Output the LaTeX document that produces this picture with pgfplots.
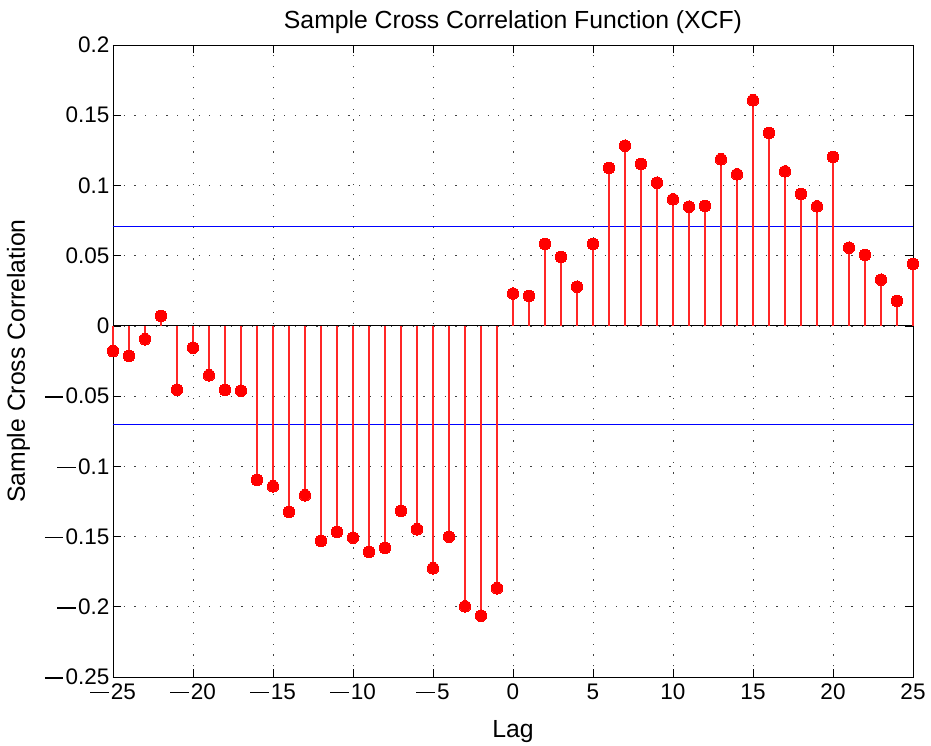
\documentclass[border=0pt]{standalone}
\usepackage{pgfplots}
\pgfplotsset{compat=1.18}
\usepackage{fontspec}
\setmainfont{Liberation Sans}
\newcommand{\mn}{\rule[0.26em]{0.82em}{0.07em}\hspace{0.1em}}
\begin{document}
\begin{tikzpicture}
\begin{axis}[
  width=800pt, height=632pt, scale only axis,
  xmin=-25, xmax=25, ymin=-0.25, ymax=0.2,
  xtick={-25,-20,...,25},
  xticklabels={\mn25,\mn20,\mn15,\mn10,\mn5,0,5,10,15,20,25},
  ytick={-0.25,-0.2,-0.15,-0.1,-0.05,0,0.05,0.1,0.15,0.2},
  yticklabels={\mn0.25,\mn0.2,\mn0.15,\mn0.1,\mn0.05,0,0.05,0.1,0.15,0.2},
  tick label style={font=\fontsize{22.5}{27}\selectfont},
  xticklabel style={yshift=-3pt},
  tick align=inside, major tick length=8pt,
  every tick/.style={black, line width=0.6pt},
  axis line style={black, line width=0.8pt},
  grid=major,
  major grid style={black!75, line width=0.6pt, dash pattern=on 1.2pt off 9.5pt},
  title={Sample Cross Correlation Function (XCF)},
  title style={font=\fontsize{24.75}{29}\selectfont, yshift=2pt},
  xlabel={Lag},
  ylabel={Sample Cross Correlation},
  label style={font=\fontsize{24.75}{29}\selectfont},
  xlabel style={yshift=-14pt},
  ylabel style={yshift=8pt},
  clip=false,
]
\addplot[color=black, line width=1pt, mark=none] coordinates {(-25,0) (25,0)};
\addplot[color=blue, line width=1pt, mark=none] coordinates {(-25,0.0707) (25,0.0707)};
\addplot[color=blue, line width=1.1pt, mark=none] coordinates {(-25,-0.0704) (25,-0.0704)};
\addplot[ycomb, red!85!white, line width=1.3pt, mark=*, mark size=5.8pt,
  mark options={fill=red, draw=red, line width=0pt}] table {
x y
-25 -0.018
-24 -0.0215
-23 -0.0095
-22 0.007
-21 -0.0454
-20 -0.0155
-19 -0.0352
-18 -0.0457
-17 -0.0461
-16 -0.1097
-15 -0.1142
-14 -0.1325
-13 -0.1206
-12 -0.1532
-11 -0.1468
-10 -0.1508
-9 -0.161
-8 -0.1581
-7 -0.1318
-6 -0.1448
-5 -0.1726
-4 -0.1501
-3 -0.1997
-2 -0.2063
-1 -0.1868
0 0.023
1 0.0213
2 0.0583
3 0.049
4 0.0279
5 0.0583
6 0.1124
7 0.1283
8 0.1153
9 0.102
10 0.0901
11 0.0849
12 0.0854
13 0.1186
14 0.1079
15 0.1606
16 0.1373
17 0.110
18 0.0939
19 0.0851
20 0.1203
21 0.0557
22 0.0505
23 0.0329
24 0.0177
25 0.0441
};
\end{axis}
\path (current axis.south west) ++(-113pt,-69pt) coordinate (a);
\path (current axis.north east) ++(18pt,45pt) coordinate (b);
\path (a) rectangle (b);
\end{tikzpicture}
\end{document}
